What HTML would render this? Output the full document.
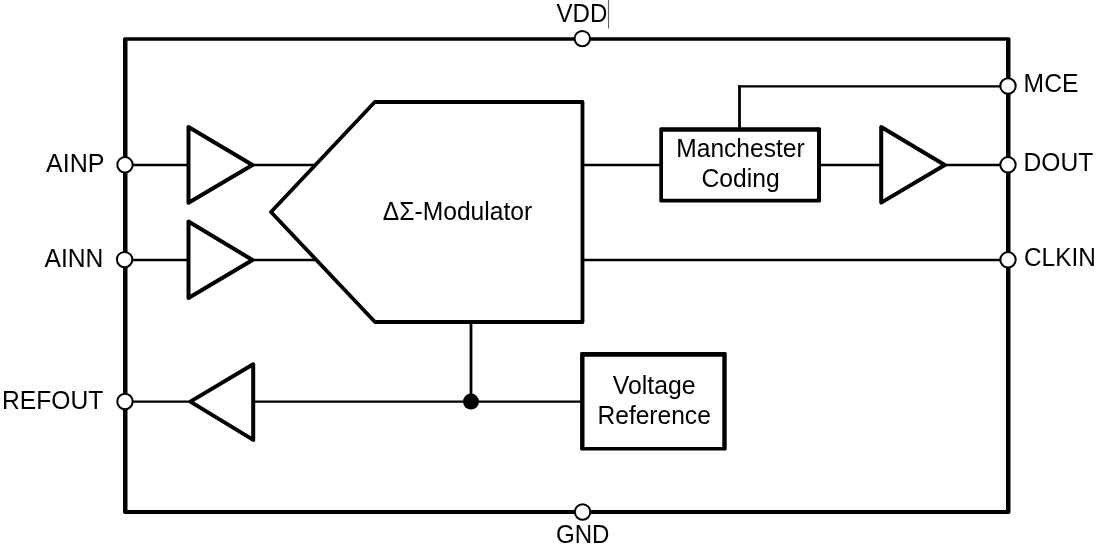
<!DOCTYPE html>
<html><head><meta charset="utf-8">
<style>
html,body{margin:0;padding:0;background:#fff;width:1100px;height:547px;overflow:hidden}
svg{display:block;will-change:transform}
text{font-family:"Liberation Sans",sans-serif;fill:#000}
</style></head><body>
<svg width="1100" height="547" viewBox="0 0 1100 547">
<g fill="none" stroke="#000" stroke-linejoin="round">
<!-- horizontal wires -->
<g stroke-width="2.3">
<line x1="125" y1="165" x2="190" y2="165"/>
<line x1="252" y1="165" x2="316" y2="165"/>
<line x1="125" y1="260" x2="190" y2="260"/>
<line x1="252" y1="260" x2="317" y2="260"/>
<line x1="582" y1="165" x2="661" y2="165"/>
<line x1="819" y1="165" x2="881" y2="165"/>
<line x1="944" y1="165" x2="1008" y2="165"/>
<line x1="738.2" y1="86.3" x2="1008" y2="86.3"/>
<line x1="582" y1="260" x2="1008" y2="260"/>
<line x1="125" y1="401.6" x2="191" y2="401.6"/>
<line x1="253" y1="401.6" x2="582" y2="401.6"/>
</g>
<g stroke-width="2.8">
<line x1="739.5" y1="85.2" x2="739.5" y2="129.5"/>
<line x1="471" y1="322" x2="471" y2="401.6"/>
</g>
<g stroke-width="4" fill="#fff">
<polygon points="188.5,127 252.5,165 188.5,202.8"/>
<polygon points="188.5,221.5 252.5,260 188.5,298"/>
<polygon points="253.2,364.3 190.3,401.6 253.2,439.9"/>
<polygon points="881.2,127 944.8,165 881.2,202.6"/>
</g>
<polygon points="374.8,102 582.5,102 582.5,322 375,322 271,212" stroke-width="3.8" fill="#fff"/>
</g>
<g fill="#000" stroke="none">
<!-- outer box -->
<path fill-rule="evenodd" d="M124.3,37.2H1009.2L1010.5,38.5V512.7L1009.2,514H124.3L123,512.7V38.5Z M127.5,40.8H1006V509.9H127.5Z"/>
<!-- manchester box -->
<path fill-rule="evenodd" d="M660.3,127.3H820.0L821,128.3V201.5L820.0,202.5H660.3L659.3,201.5V128.3Z M663,131.7H817V198.8H663Z"/>
<!-- voltage reference box -->
<path fill-rule="evenodd" d="M581.1,352.1H725.7L726.7,353.1V449.6L725.7,450.6H581.1L580.1,449.6V353.1Z M584.5,356.7H722.3V447H584.5Z"/>
</g>
<g fill="#fff" stroke="#000" stroke-width="2">
<circle cx="582.3" cy="38.6" r="7.7"/>
<circle cx="582.6" cy="512" r="7.7"/>
<circle cx="125" cy="164.8" r="7.7"/>
<circle cx="124.6" cy="259.6" r="7.7"/>
<circle cx="125" cy="401.5" r="7.7"/>
<circle cx="1008" cy="86" r="7.7"/>
<circle cx="1008" cy="164.8" r="7.7"/>
<circle cx="1008" cy="259.8" r="7.7"/>
</g>
<circle cx="471" cy="401.6" r="8" fill="#000"/>
<line x1="608.5" y1="0" x2="608.5" y2="28.5" stroke="#606468" stroke-width="1.1"/>
<g font-size="25" lengthAdjust="spacingAndGlyphs">
<text x="556.5" y="22.05" textLength="50.9" lengthAdjust="spacingAndGlyphs">VDD</text>
<text x="556" y="542.5" textLength="53.5" lengthAdjust="spacingAndGlyphs">GND</text>
<text x="46" y="172.2" textLength="58.4" lengthAdjust="spacingAndGlyphs">AINP</text>
<text x="44.5" y="267.35" textLength="58.9" lengthAdjust="spacingAndGlyphs">AINN</text>
<text x="2" y="409" textLength="101.3" lengthAdjust="spacingAndGlyphs">REFOUT</text>
<text x="1023.6" y="91.8" textLength="54.8" lengthAdjust="spacingAndGlyphs">MCE</text>
<text x="1023.43" y="170.7" textLength="69.8" lengthAdjust="spacingAndGlyphs">DOUT</text>
<text x="1024" y="266" textLength="71.8" lengthAdjust="spacingAndGlyphs">CLKIN</text>
<text x="382.8" y="220.2" textLength="149.4" lengthAdjust="spacingAndGlyphs">ΔΣ-Modulator</text>
<text x="676.3" y="157.2" textLength="128.3" lengthAdjust="spacingAndGlyphs">Manchester</text>
<text x="701.5" y="187.1" textLength="78.2" lengthAdjust="spacingAndGlyphs">Coding</text>
<text x="612.8" y="393.8" textLength="82.8" lengthAdjust="spacingAndGlyphs">Voltage</text>
<text x="597.5" y="423.9" textLength="113.3" lengthAdjust="spacingAndGlyphs">Reference</text>
</g>
</svg>
</body></html>
